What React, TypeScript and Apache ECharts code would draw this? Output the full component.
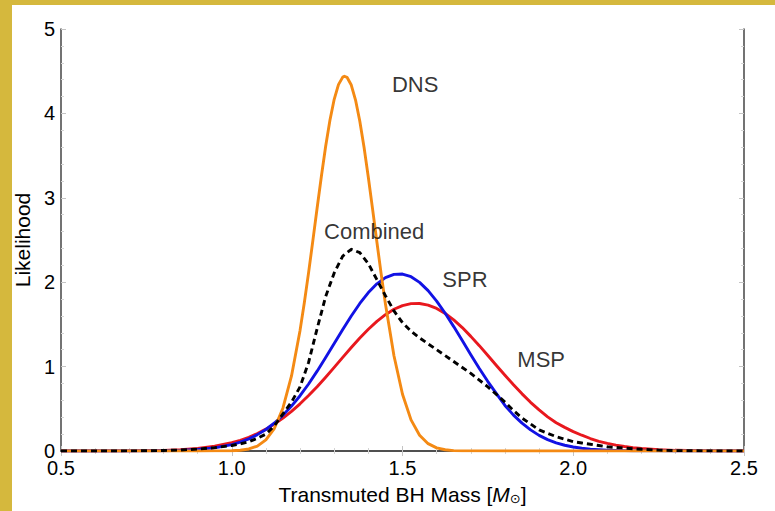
import React, { useEffect, useRef } from 'react';
import * as echarts from 'echarts';

const xs = [
  0.5, 0.6, 0.7, 0.75, 0.8, 0.85, 0.9, 0.95, 1.0,
  1.025, 1.05, 1.075, 1.1, 1.125, 1.15, 1.175, 1.2, 1.225, 1.25, 1.275, 1.3, 1.325, 1.35,
  1.375, 1.4, 1.425, 1.45, 1.475, 1.5, 1.525, 1.55, 1.575, 1.6, 1.625, 1.65, 1.675, 1.7,
  1.725, 1.75, 1.775, 1.8, 1.825, 1.85, 1.875, 1.9, 1.925, 1.95, 1.975, 2.0, 2.025, 2.05,
  2.075, 2.1, 2.125, 2.15, 2.175, 2.2,
  2.25, 2.3, 2.4, 2.5,
];

// DNS is sampled more finely around its narrow peak
const dnsX = [
  0.5, 0.8, 0.9, 0.95, 1.0, 1.025, 1.05, 1.075, 1.1, 1.125, 1.15, 1.175, 1.2,
  1.2125, 1.225, 1.2375, 1.25, 1.2625, 1.275, 1.2875, 1.3, 1.3125, 1.325, 1.33, 1.3375, 1.35,
  1.3625, 1.375, 1.3875, 1.4, 1.4125, 1.425, 1.4375, 1.45,
  1.475, 1.5, 1.525, 1.55, 1.575, 1.6, 1.625, 1.65, 1.675, 1.7, 1.8, 2.5,
];
const dns = [
  0, 0, 0, 0.001, 0.003, 0.009, 0.024, 0.058, 0.131, 0.269, 0.51, 0.889, 1.429,
  1.756, 2.114, 2.492, 2.879, 3.256, 3.61, 3.918, 4.167, 4.341, 4.43, 4.44, 4.428, 4.336,
  4.158, 3.907, 3.596, 3.241, 2.863, 2.476, 2.099, 1.743,
  1.128, 0.673, 0.369, 0.187, 0.087, 0.037, 0.015, 0.005, 0.002, 0.001, 0, 0,
];

const spr = [
  0, 0, 0, 0.001, 0.003, 0.007, 0.017, 0.037, 0.076,
  0.105, 0.144, 0.194, 0.255, 0.332, 0.424, 0.532, 0.655, 0.794, 0.946, 1.107, 1.274, 1.441, 1.6,
  1.748, 1.877, 1.981, 2.054, 2.093, 2.097, 2.065, 1.998, 1.9, 1.776, 1.632, 1.474, 1.308, 1.14,
  0.977, 0.823, 0.68, 0.54, 0.425, 0.33, 0.25, 0.185, 0.135, 0.097, 0.068, 0.047, 0.032, 0.021,
  0.014, 0.009, 0.006, 0.004, 0.002, 0.001,
  0.001, 0, 0, 0,
];

const msp = [
  0, 0, 0.002, 0.004, 0.008, 0.016, 0.031, 0.056, 0.098,
  0.127, 0.163, 0.207, 0.259, 0.319, 0.39, 0.469, 0.559, 0.657, 0.762, 0.874, 0.991, 1.11, 1.226,
  1.338, 1.442, 1.536, 1.615, 1.679, 1.723, 1.746, 1.748, 1.729, 1.689, 1.629, 1.553, 1.462, 1.358,
  1.248, 1.132, 1.013, 0.897, 0.784, 0.677, 0.577, 0.487, 0.405, 0.335, 0.28, 0.23, 0.187, 0.148,
  0.115, 0.09, 0.07, 0.053, 0.04, 0.03,
  0.016, 0.008, 0.002, 0,
];

const combined = [
  0, 0, 0.001, 0.003, 0.006, 0.012, 0.022, 0.04, 0.065,
  0.085, 0.11, 0.15, 0.2, 0.3, 0.44, 0.58, 0.76, 1.05, 1.45, 1.83, 2.11, 2.31, 2.39,
  2.35, 2.22, 2.03, 1.84, 1.66, 1.52, 1.42, 1.34, 1.27, 1.2, 1.13, 1.06, 0.99, 0.92,
  0.84, 0.76, 0.67, 0.58, 0.48, 0.39, 0.32, 0.25, 0.21, 0.17, 0.14, 0.11, 0.095, 0.08,
  0.065, 0.05, 0.042, 0.035, 0.027, 0.02,
  0.01, 0.005, 0.001, 0,
];

// label annotations in data units
const labelNames = ['DNS', 'Combined', 'SPR', 'MSP'];
const labelX = [1.537, 1.417, 1.683, 1.906];
const labelY = [4.34, 2.6, 2.03, 1.08];

const FONT = '"Liberation Sans", Arial, Helvetica, sans-serif';

export default function App() {
  const ref = useRef<HTMLDivElement>(null);
  useEffect(() => {
    if (!ref.current) return;
    const chart = echarts.init(ref.current, null, { renderer: 'svg' });
    const pairs = (xArr: number[], arr: number[]) => xArr.map((x, i) => [x, arr[i]]);
    const axisLine = { show: true, lineStyle: { color: '#444', width: 1.5 } };
    const tick = { show: true, inside: true, length: 5, lineStyle: { color: '#c4c4c4', width: 1 } };
    const minor = { show: true, splitNumber: 5, length: 3, lineStyle: { color: '#d4d4d4', width: 1 } };
    const lineSeries = (name: string, xArr: number[], arr: number[], color: string, dashed = false) => ({
      name,
      type: 'line',
      data: pairs(xArr, arr),
      showSymbol: false,
      symbol: 'none',
      smooth: false,
      lineStyle: { color, width: 2.9, type: dashed ? [6, 4] : 'solid', join: 'round' },
      z: dashed ? 5 : 3,
    });
    chart.setOption({
      animation: false,
      backgroundColor: '#fff',
      textStyle: { fontFamily: FONT },
      grid: { left: 61, right: 31, top: 29, bottom: 60 },
      graphic: [
        { type: 'rect', shape: { x: 0, y: 0, width: 775, height: 5 }, style: { fill: '#D5B83D' } },
        { type: 'rect', shape: { x: 0, y: 0, width: 12, height: 511 }, style: { fill: '#D5B83D' } },
      ],
      xAxis: [
        {
          type: 'value', min: 0.5, max: 2.5, interval: 0.5, position: 'bottom',
          axisLine, axisTick: tick, minorTick: minor, splitLine: { show: false },
          axisLabel: {
            fontSize: 20, color: '#000', margin: 7, fontFamily: FONT,
            formatter: (v: number) => v.toFixed(1),
          },
          name: 'Transmuted BH Mass [{i|M}{s|⊙}]',
          nameLocation: 'middle',
          nameGap: 32,
          nameTextStyle: {
            fontSize: 21, color: '#000', fontFamily: FONT,
            rich: {
              i: { fontSize: 21, fontStyle: 'italic', color: '#000', fontFamily: FONT },
              s: { fontSize: 13, color: '#000', padding: [9, 0, 0, 0], fontFamily: 'DejaVu Sans' },
            },
          },
        },
        {
          type: 'value', min: 0.5, max: 2.5, interval: 0.5, position: 'top',
          axisLine, axisTick: tick, minorTick: minor, splitLine: { show: false },
          axisLabel: { show: false },
        },
      ],
      yAxis: [
        {
          type: 'value', min: 0, max: 5, interval: 1, position: 'left',
          axisLine, axisTick: tick, minorTick: minor, splitLine: { show: false },
          axisLabel: { fontSize: 20, color: '#000', margin: 6, fontFamily: FONT },
          name: 'Likelihood',
          nameLocation: 'middle',
          nameGap: 23,
          nameTextStyle: { fontSize: 21, color: '#000', fontFamily: FONT },
        },
        {
          type: 'value', min: 0, max: 5, interval: 1, position: 'right',
          axisLine, axisTick: tick, minorTick: minor, splitLine: { show: false },
          axisLabel: { show: false },
        },
      ],
      series: [
        lineSeries('MSP', xs, msp, '#E8181E'),
        lineSeries('SPR', xs, spr, '#1212E4'),
        lineSeries('DNS', dnsX, dns, '#F48A14'),
        lineSeries('Combined', xs, combined, '#000000', true),
        {
          name: 'labels',
          type: 'scatter',
          symbolSize: 1,
          itemStyle: { color: 'rgba(0,0,0,0)' },
          data: labelNames.map((n, i) => [labelX[i], labelY[i], n]),
          label: {
            show: true,
            position: 'inside',
            fontSize: 22,
            color: '#000',
            fontFamily: FONT,
            formatter: (p: any) => p.value[2],
          },
          z: 10,
        },
      ],
    });
    return () => chart.dispose();
  }, []);
  return (
    <div
      ref={ref}
      style={{ position: 'fixed', left: 0, top: 0, width: 775, height: 511, background: '#fff' }}
    />
  );
}
